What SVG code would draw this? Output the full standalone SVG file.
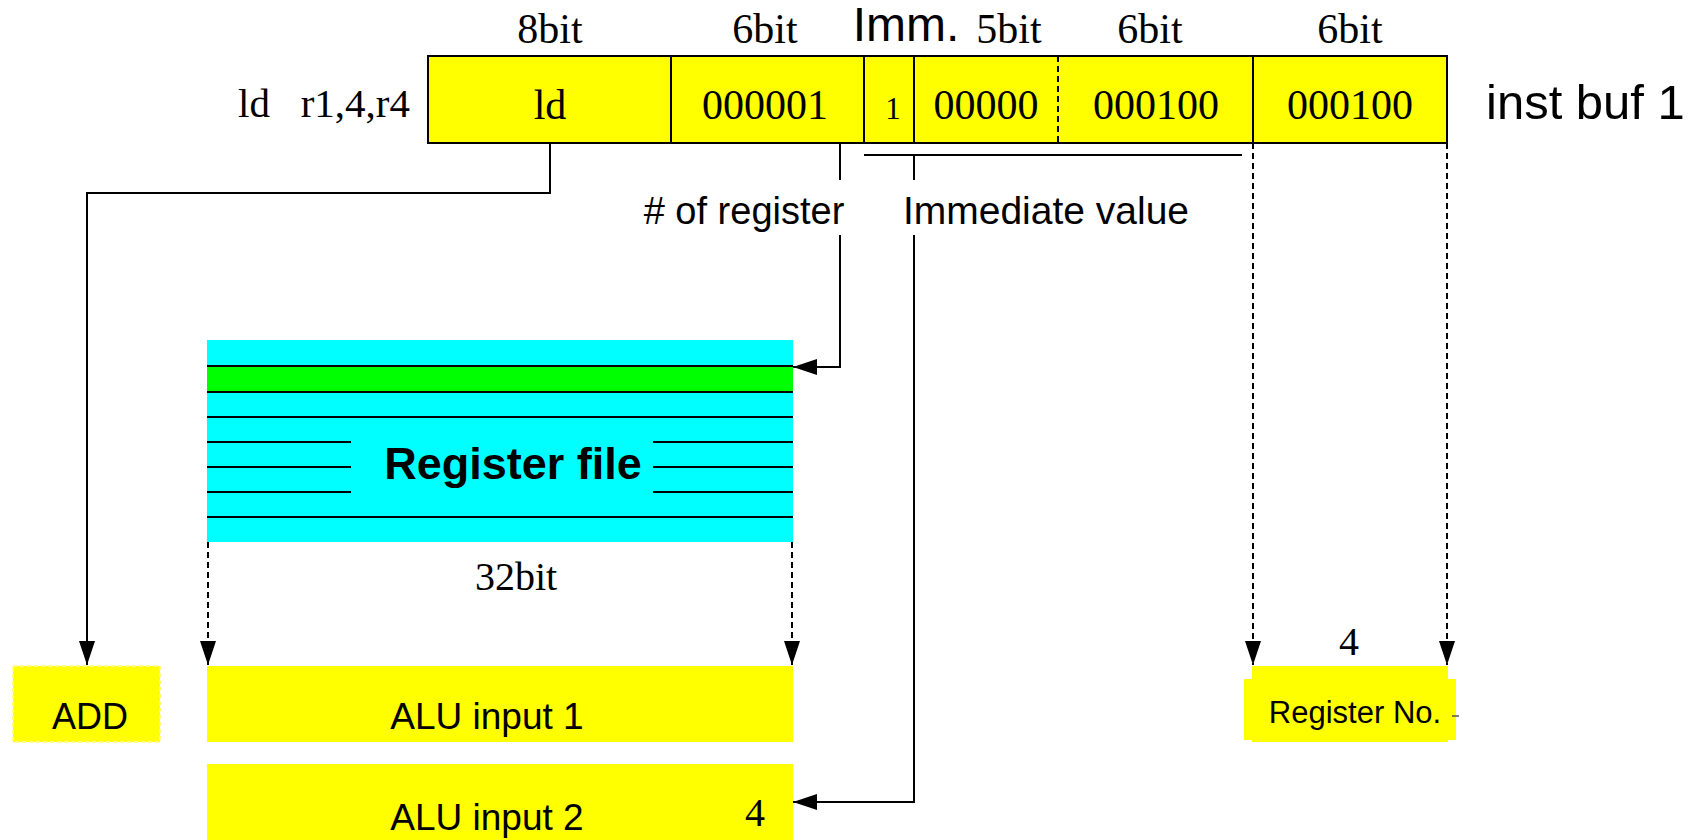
<svg xmlns="http://www.w3.org/2000/svg" width="1694" height="840" viewBox="0 0 1694 840">
<defs>
<style>
.serif{font-family:"Liberation Serif","Times New Roman",serif;fill:#000}
.sans{font-family:"Liberation Sans",Arial,sans-serif;fill:#000}
.fld{fill:#ffff00;stroke:#000;stroke-width:2}
.ln{fill:none;stroke:#000;stroke-width:2}
.dash{fill:none;stroke:#000;stroke-width:2;stroke-dasharray:6 4}
.rl{stroke:#000;stroke-width:2}
</style>
<marker id="arr" viewBox="0 0 24 16" refX="24" refY="8" markerWidth="24" markerHeight="16" markerUnits="userSpaceOnUse" orient="auto">
<path d="M0,0 L24,8 L0,16 z" fill="#000"/>
</marker>
</defs>
<rect width="1694" height="840" fill="#fff"/>

<g id="inst-buf">
<text class="serif" x="410" y="117" font-size="41" text-anchor="end" xml:space="preserve">ld   r1,4,r4</text>
<rect class="fld" x="428" y="56" width="1019" height="87"/>
<line class="rl" x1="671" y1="56" x2="671" y2="143"/>
<line class="rl" x1="864" y1="56" x2="864" y2="143"/>
<line class="rl" x1="914" y1="56" x2="914" y2="143"/>
<line class="dash" x1="1058" y1="56" x2="1058" y2="143"/>
<line class="rl" x1="1253" y1="56" x2="1253" y2="143"/>
<g class="serif" font-size="42" text-anchor="middle">
<text x="550" y="43">8bit</text>
<text x="765" y="43">6bit</text>
<text x="1009" y="43">5bit</text>
<text x="1150" y="43">6bit</text>
<text x="1350" y="43">6bit</text>
<text x="550" y="119">ld</text>
<text x="765" y="119">000001</text>
<text x="893" y="119" font-size="31">1</text>
<text x="986" y="119">00000</text>
<text x="1156" y="119">000100</text>
<text x="1350" y="119">000100</text>
</g>
<text class="sans" x="906" y="41" font-size="48" text-anchor="middle">Imm.</text>
<text class="sans" x="1486" y="119" font-size="49">inst buf 1</text>
</g>

<g id="register-file">
<rect x="207" y="340" width="586" height="202" fill="#00ffff"/>
<rect x="207" y="366" width="586" height="26" fill="#00ff00"/>
<line class="rl" x1="207" y1="366" x2="793" y2="366"/>
<line class="rl" x1="207" y1="392" x2="793" y2="392"/>
<line class="rl" x1="207" y1="417" x2="793" y2="417"/>
<line class="rl" x1="207" y1="442" x2="351" y2="442"/>
<line class="rl" x1="207" y1="467" x2="351" y2="467"/>
<line class="rl" x1="207" y1="492" x2="351" y2="492"/>
<line class="rl" x1="653" y1="442" x2="793" y2="442"/>
<line class="rl" x1="653" y1="467" x2="793" y2="467"/>
<line class="rl" x1="653" y1="492" x2="793" y2="492"/>
<line class="rl" x1="207" y1="517" x2="793" y2="517"/>
<text class="sans" x="513" y="479" font-size="45" font-weight="bold" text-anchor="middle">Register file</text>
<text class="serif" x="516" y="590" font-size="40" text-anchor="middle">32bit</text>
</g>

<g id="add">
<rect x="13" y="666" width="147" height="76" fill="#ffff00" stroke="#ffff88" stroke-width="2" stroke-dasharray="4 3"/>
<text class="sans" x="90" y="729" font-size="36" text-anchor="middle">ADD</text>
</g>

<g id="alu-input-1">
<rect x="207" y="666" width="586" height="76" fill="#ffff00"/>
<text class="sans" x="487" y="729" font-size="37" text-anchor="middle">ALU input 1</text>
</g>

<g id="alu-input-2">
<rect x="207" y="764" width="586" height="76" fill="#ffff00"/>
<text class="sans" x="487" y="830" font-size="37" text-anchor="middle">ALU input 2</text>
<text class="serif" x="755" y="826" font-size="40" text-anchor="middle">4</text>
</g>

<g id="register-no">
<rect x="1252" y="666" width="196" height="76" fill="#ffff00"/>
<rect x="1244" y="679" width="212" height="61" fill="#ffff00"/>
<text class="sans" x="1355" y="723" font-size="31" text-anchor="middle">Register No.</text>
<line x1="1452" y1="716" x2="1459" y2="716" stroke="#555" stroke-width="1.5"/>
<text class="serif" x="1349" y="655" font-size="40" text-anchor="middle">4</text>
</g>

<g id="connectors">
<path class="ln" d="M550,143 V193 H87 V665" marker-end="url(#arr)"/>
<path class="ln" d="M840,143 V180"/>
<path class="ln" d="M840,235 V367 H793" marker-end="url(#arr)"/>
<path class="ln" d="M864,155 H1242"/>
<path class="ln" d="M914,155 V180"/>
<path class="ln" d="M914,235 V802 H793" marker-end="url(#arr)"/>
<path class="dash" d="M1253,143 V665" marker-end="url(#arr)"/>
<path class="dash" d="M1447,143 V665" marker-end="url(#arr)"/>
<path class="dash" d="M208,542 V665" marker-end="url(#arr)"/>
<path class="dash" d="M792,542 V665" marker-end="url(#arr)"/>
<text class="sans" x="744" y="224" font-size="38" text-anchor="middle"># of register</text>
<text class="sans" x="1046" y="224" font-size="39" text-anchor="middle">Immediate value</text>
</g>
</svg>
